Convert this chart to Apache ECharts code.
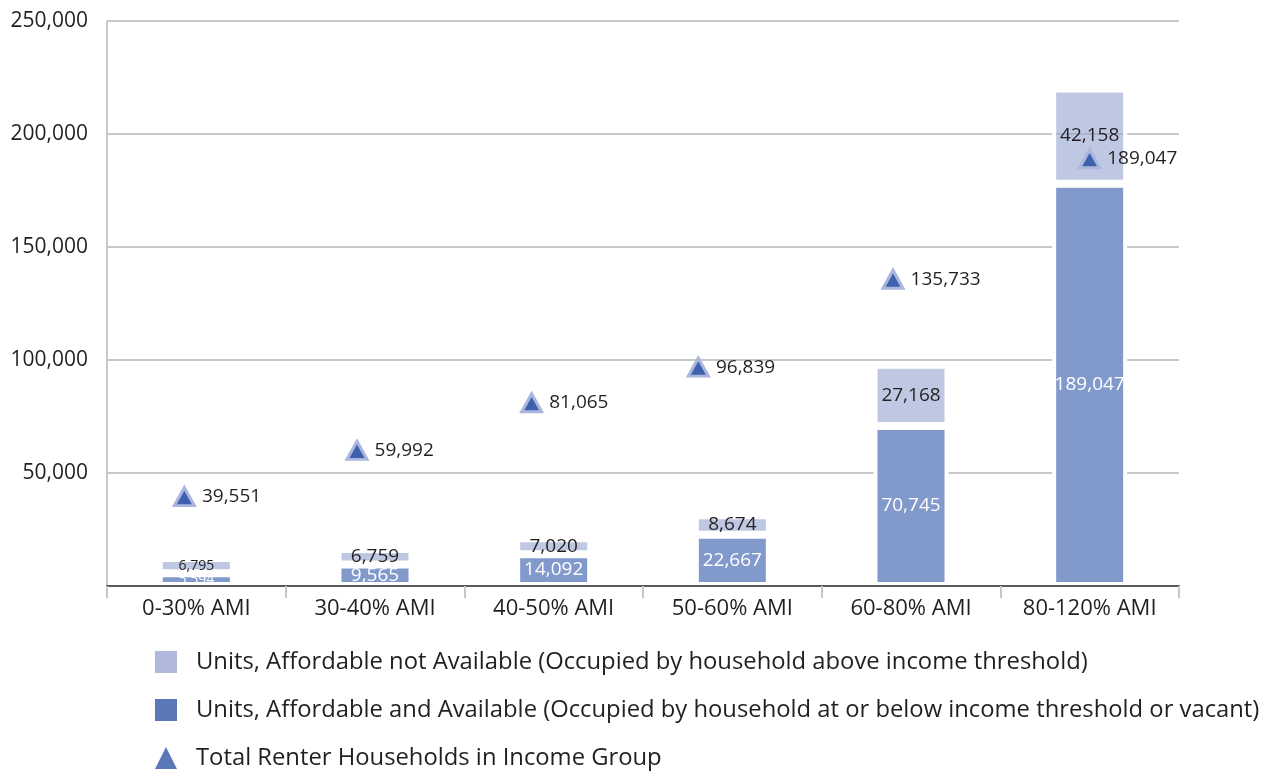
<!DOCTYPE html>
<html><head><meta charset="utf-8">
<script src="https://cdn.jsdelivr.net/npm/echarts@6/dist/echarts.min.js"></script>
<style>html,body{margin:0;padding:0;background:#fff}#c{width:1273px;height:775px}</style>
</head><body><div id="c"></div>
<script>
const categories = ['0-30% AMI', '30-40% AMI', '40-50% AMI', '50-60% AMI', '60-80% AMI', '80-120% AMI'];
const affordableAvailable = [5594, 9565, 14092, 22667, 70745, 178000];
const affordableAvailableLabels = ['5,594', '9,565', '14,092', '22,667', '70,745', '189,047'];
const affordableNotAvailable = [6795, 6759, 7020, 8674, 27168, 42158];
const totalRenterHouseholds = [39551, 59992, 81065, 96839, 135733, 189047];
const yMin = 0, yMax = 250000, yStep = 50000;

const names = [
  'Units, Affordable not Available (Occupied by household above income threshold)',
  'Units, Affordable and Available (Occupied by household at or below income threshold or vacant)',
  'Total Renter Households in Income Group'
];
const FONT = '"Open Sans", sans-serif';
const TXT = '#231f20';
const fmt = v => v.toLocaleString('en-US');
const smallFirst = i => (i === 0 ? 14 : 19);
const triShift = [-12, -18, -22, -34, -18, 0];

const chart = echarts.init(document.getElementById('c'), null, {renderer: 'canvas'});
chart.setOption({
  animation: false,
  backgroundColor: '#fff',
  textStyle: {fontFamily: FONT, color: TXT},
  grid: {left: 107, right: 94, top: 21, bottom: 189},
  legend: {
    orient: 'vertical', left: 150, top: 645, bottom: 0, padding: 5,
    itemWidth: 22, itemHeight: 22, itemGap: 24,
    textStyle: {fontFamily: FONT, fontSize: 23.8, lineHeight: 24, color: TXT, padding: [0, 0, 0, 14]},
    data: [
      {name: names[0], icon: 'rect', itemStyle: {color: '#b0b8dc', borderWidth: 0, opacity: 1}},
      {name: names[1], icon: 'rect', itemStyle: {color: '#5b78b8', borderWidth: 0, opacity: 1}},
      {name: names[2], icon: 'triangle', itemStyle: {color: '#5b78b8', borderWidth: 0, opacity: 1}}
    ]
  },
  xAxis: {
    type: 'category', data: categories, z: 5,
    axisLine: {lineStyle: {color: '#58595b', width: 2}},
    axisTick: {show: true, length: 12, interval: 0, lineStyle: {color: '#c8c8c8', width: 2}},
    axisLabel: {fontFamily: FONT, fontSize: 22, color: TXT, margin: 12, interval: 0}
  },
  yAxis: {
    type: 'value', min: yMin, max: yMax, interval: yStep,
    axisLine: {show: true, lineStyle: {color: '#c8c8c8', width: 2}},
    axisTick: {show: false},
    splitLine: {lineStyle: {color: '#c8c8c8', width: 2}},
    axisLabel: {fontFamily: FONT, fontSize: 21, color: TXT, margin: 19,
      formatter: v => (v === 0 ? '' : fmt(v))}
  },
  series: [
    {
      name: names[1], type: 'bar', stack: 'u', barWidth: 75,
      itemStyle: {color: '#8199cb', borderColor: '#fff', borderWidth: 4},
      data: affordableAvailable.map((v, i) => ({
        value: v,
        label: {fontSize: smallFirst(i)}
      })),
      label: {
        show: true, position: 'inside', color: '#fff', fontFamily: FONT,
        formatter: p => affordableAvailableLabels[p.dataIndex]
      }
    },
    {
      name: names[0], type: 'bar', stack: 'u', barWidth: 75,
      itemStyle: {color: 'rgba(147,163,208,0.6)', borderColor: '#fff', borderWidth: 4},
      data: affordableNotAvailable.map((v, i) => ({
        value: v,
        label: {fontSize: smallFirst(i)}
      })),
      label: {
        show: true, position: 'inside', color: TXT, fontFamily: FONT,
        formatter: p => fmt(p.value)
      }
    },
    {
      name: names[2], type: 'scatter', symbol: 'triangle', symbolSize: [20, 18], z: 6,
      itemStyle: {color: '#3f60ad', borderColor: '#aab6de', borderWidth: 3, opacity: 1},
      data: totalRenterHouseholds.map((v, i) => ({
        value: v,
        symbolOffset: [triShift[i], 0]
      })),
      label: {
        show: true, position: 'right', distance: 6, color: TXT, opacity: 1,
        fontFamily: FONT, fontSize: 19, formatter: p => fmt(p.value)
      }
    }
  ]
});
</script>
</body></html>
